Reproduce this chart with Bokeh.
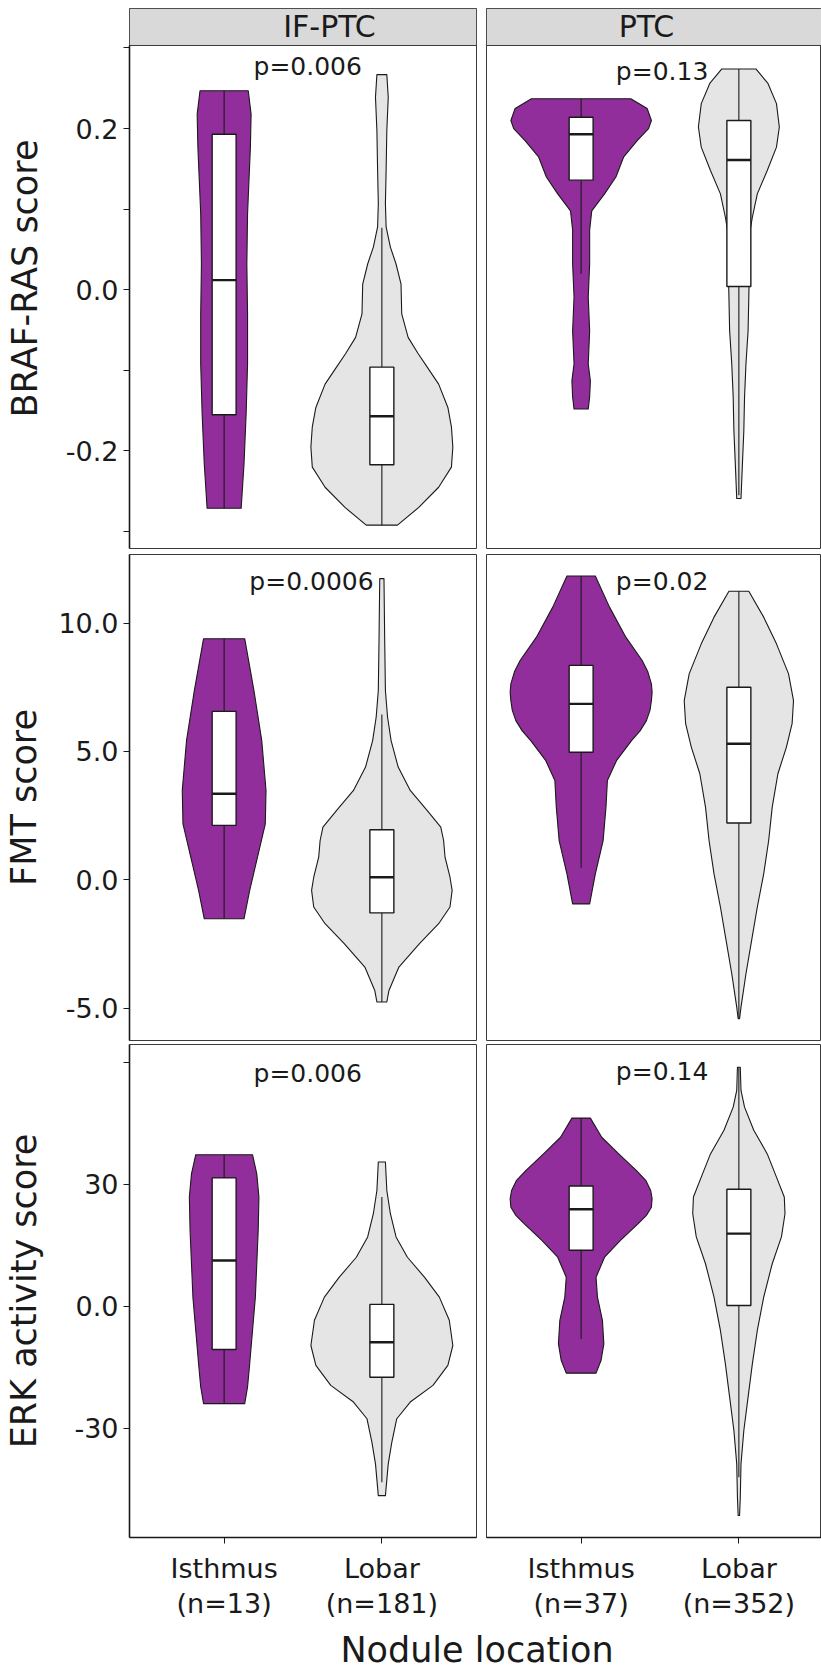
from bokeh.plotting import figure
from bokeh.layouts import column, row
from bokeh.models import Range1d, FixedTicker
from bokeh.core.properties import value
from bokeh.embed import file_html
from bokeh.resources import INLINE

# ---------------- data ----------------
groups = ["Isthmus", "Lobar"]
facets = ["IF-PTC", "PTC"]
scores = ["BRAF-RAS score", "FMT score", "ERK activity score"]
x_labels_if = ["Isthmus\n(n=13)", "Lobar\n(n=181)"]
x_labels_ptc = ["Isthmus\n(n=37)", "Lobar\n(n=352)"]
p_texts = [["p=0.006", "p=0.13"], ["p=0.0006", "p=0.02"], ["p=0.006", "p=0.14"]]
x_title = "Nodule location"

# violin outlines: score value, relative half-width (1 = widest violin)
braf_if_isth_y = [0.247, 0.218, 0.177, 0.136, 0.094, 0.032, -0.030, -0.092, -0.154, -0.216, -0.271]
braf_if_isth_w = [0.34, 0.38, 0.37, 0.35, 0.33, 0.32, 0.33, 0.33, 0.31, 0.28, 0.24]
braf_if_lob_y = [0.267, 0.239, 0.198, 0.148, 0.107, 0.078, 0.053, 0.032, 0.007, -0.030, -0.059, -0.079,
                 -0.100, -0.117, -0.146, -0.170, -0.195, -0.220, -0.245, -0.270, -0.292]
braf_if_lob_w = [0.07, 0.09, 0.07, 0.06, 0.05, 0.06, 0.12, 0.20, 0.27, 0.28, 0.37, 0.51,
                 0.67, 0.80, 0.93, 0.98, 1.00, 0.98, 0.80, 0.52, 0.22]
braf_ptc_isth_y = [0.237, 0.225, 0.210, 0.200, 0.185, 0.165, 0.140, 0.119, 0.098, 0.074, 0.032, -0.009,
                   -0.051, -0.092, -0.113, -0.133, -0.148]
braf_ptc_isth_w = [0.70, 0.93, 0.99, 0.95, 0.79, 0.60, 0.49, 0.33, 0.15, 0.12, 0.12, 0.10,
                   0.12, 0.10, 0.13, 0.12, 0.10]
braf_ptc_lob_y = [0.274, 0.256, 0.231, 0.202, 0.177, 0.148, 0.119, 0.090, 0.074, 0.032, -0.009, -0.051,
                  -0.092, -0.133, -0.175, -0.216, -0.259]
braf_ptc_lob_w = [0.24, 0.41, 0.53, 0.57, 0.53, 0.40, 0.26, 0.19, 0.16, 0.15, 0.14, 0.13,
                  0.10, 0.08, 0.07, 0.05, 0.03]

fmt_if_isth_y = [9.39, 7.37, 5.42, 3.48, 2.18, 0.88, -0.41, -1.52]
fmt_if_isth_w = [0.29, 0.42, 0.53, 0.59, 0.58, 0.47, 0.36, 0.28]
fmt_if_lob_y = [11.73, 9.32, 7.37, 6.34, 5.42, 4.39, 3.48, 2.69, 2.05, 1.53, 0.88, 0.10,
                -0.41, -1.06, -1.71, -2.49, -3.40, -4.31, -4.76]
fmt_if_lob_w = [0.03, 0.04, 0.05, 0.08, 0.13, 0.23, 0.40, 0.64, 0.83, 0.87, 0.89, 0.96,
                0.99, 0.96, 0.80, 0.53, 0.24, 0.10, 0.07]
fmt_ptc_isth_y = [11.83, 10.62, 9.45, 8.54, 8.10, 7.63, 7.30, 6.98, 6.60, 6.20, 5.80, 5.42, 4.65, 3.87,
                  2.83, 1.53, 0.23, -0.94]
fmt_ptc_isth_w = [0.20, 0.40, 0.63, 0.86, 0.94, 0.99, 1.00, 0.99, 0.97, 0.92, 0.83, 0.71, 0.50, 0.37,
                  0.35, 0.31, 0.20, 0.12]
fmt_ptc_lob_y = [11.24, 10.23, 9.19, 8.02, 6.98, 6.08, 5.17, 4.13, 2.83, 1.53, 0.23, -1.06,
                 -2.36, -3.66, -4.96, -5.41]
fmt_ptc_lob_w = [0.14, 0.35, 0.53, 0.70, 0.77, 0.75, 0.67, 0.55, 0.47, 0.42, 0.35, 0.26,
                 0.18, 0.10, 0.03, 0.01]

erk_if_isth_y = [37.3, 32.6, 26.9, 18.7, 10.5, 2.3, -5.9, -14.1, -19.8, -23.9]
erk_if_isth_w = [0.40, 0.46, 0.49, 0.48, 0.46, 0.44, 0.40, 0.36, 0.33, 0.29]
erk_if_lob_y = [35.5, 28.5, 22.8, 17.1, 12.1, 7.2, 2.3, -3.4, -9.6, -14.5, -19.4, -23.5,
                -27.6, -33.4, -38.7, -46.5]
erk_if_lob_w = [0.05, 0.07, 0.12, 0.20, 0.36, 0.60, 0.81, 0.95, 1.00, 0.93, 0.72, 0.40,
                0.21, 0.14, 0.09, 0.05]
erk_ptc_isth_y = [46.3, 41.6, 37.5, 33.4, 31.0, 28.5, 26.5, 24.4, 22.4, 20.3, 16.2, 12.1, 7.2, 2.3,
                  -3.4, -9.2, -13.3, -16.4]
erk_ptc_isth_w = [0.13, 0.29, 0.53, 0.78, 0.91, 0.98, 1.00, 0.99, 0.92, 0.80, 0.55, 0.33, 0.21, 0.23,
                  0.30, 0.32, 0.28, 0.21]
erk_ptc_lob_y = [58.8, 53.1, 49.0, 43.3, 37.5, 31.8, 26.9, 22.8, 17.1, 10.5, 2.3, -5.9,
                 -14.1, -22.3, -30.5, -38.7, -46.9, -51.4]
erk_ptc_lob_w = [0.02, 0.03, 0.08, 0.21, 0.40, 0.53, 0.64, 0.65, 0.60, 0.47, 0.35, 0.26,
                 0.19, 0.13, 0.07, 0.03, 0.02, 0.01]

# box stats: lower whisker, q1, median, q3, upper whisker
braf_if_isth_box = [-0.271, -0.155, 0.012, 0.193, 0.247]
braf_if_lob_box = [-0.292, -0.217, -0.157, -0.096, 0.077]
braf_ptc_isth_box = [0.020, 0.136, 0.193, 0.214, 0.237]
braf_ptc_lob_box = [-0.255, 0.004, 0.161, 0.210, 0.274]
fmt_if_isth_box = [-1.52, 2.12, 3.35, 6.56, 9.39]
fmt_if_lob_box = [-4.76, -1.29, 0.10, 1.95, 6.44]
fmt_ptc_isth_box = [0.47, 4.97, 6.85, 8.35, 11.83]
fmt_ptc_lob_box = [-5.41, 2.21, 5.30, 7.50, 11.24]
erk_if_isth_box = [-23.9, -10.6, 11.3, 31.6, 37.3]
erk_if_lob_box = [-43.2, -17.4, -8.8, 0.5, 26.9]
erk_ptc_isth_box = [-8.0, 13.8, 23.9, 29.6, 46.3]
erk_ptc_lob_box = [-42.0, 0.25, 17.9, 28.8, 58.8]

y_ticks = [[-0.3, -0.2, -0.1, 0.0, 0.1, 0.2, 0.3], [-5, 0, 5, 10], [-30, 0, 30, 60]]
y_tick_labels = [["", "-0.2", "", "0.0", "", "0.2", ""], ["-5.0", "0.0", "5.0", "10.0"], ["-30", "0.0", "30", ""]]

# ---------------- styling / layout ----------------
FONT_NAME = "DejaVu Sans"
FONT = value(FONT_NAME)
TXT = "#1a1a1a"
EDGE = "#3a3a3a"
FILLS = ["#912E9B", "#E5E5E5"]
HALF = 0.45
BOX_HALF = 0.076

violins = [
    [[(braf_if_isth_y, braf_if_isth_w, braf_if_isth_box), (braf_if_lob_y, braf_if_lob_w, braf_if_lob_box)],
     [(braf_ptc_isth_y, braf_ptc_isth_w, braf_ptc_isth_box), (braf_ptc_lob_y, braf_ptc_lob_w, braf_ptc_lob_box)]],
    [[(fmt_if_isth_y, fmt_if_isth_w, fmt_if_isth_box), (fmt_if_lob_y, fmt_if_lob_w, fmt_if_lob_box)],
     [(fmt_ptc_isth_y, fmt_ptc_isth_w, fmt_ptc_isth_box), (fmt_ptc_lob_y, fmt_ptc_lob_w, fmt_ptc_lob_box)]],
    [[(erk_if_isth_y, erk_if_isth_w, erk_if_isth_box), (erk_if_lob_y, erk_if_lob_w, erk_if_lob_box)],
     [(erk_ptc_isth_y, erk_ptc_isth_w, erk_ptc_isth_box), (erk_ptc_lob_y, erk_ptc_lob_w, erk_ptc_lob_box)]],
]

# panel value ranges (bottom, top) and the extra space above row 1 used by the facet strip
y_ranges = [(-0.321, 0.3031), (-6.26, 12.67), (-56.8, 64.4)]
STRIP_PX = 37
PX_PER_UNIT_R1 = 806.0
title_standoff = [18, 11, 27]
# p-value label positions (x in category units, y = vertical middle of the text)
p_pos = [[(1.53, 0.2770), (1.513, 0.2708)], [(1.554, 11.62), (1.513, 11.62)], [(1.53, 57.37), (1.513, 57.78)]]
strip_x = [1.668, 1.414]

LEFT_BORDER = 129
FRAME_L = 347
FRAME_R = 335
GAP = 5
LEFT_W = LEFT_BORDER + FRAME_L + GAP
RIGHT_W = GAP + FRAME_R
X_RANGE_L = (0.4, 2.6)
X_RANGE_R = (0.4, 0.4 + 2.2 * FRAME_R / FRAME_L)

row_heights = [551, 491, 580]
row_borders = [(8, 3), (3, 2), (2, 85)]
TITLE_H = 1674 - sum(row_heights)


def base_fig(w, h, xr, yr, bl, br, bt, bb):
    p = figure(width=w, height=h, x_range=Range1d(*xr), y_range=Range1d(*yr), title=None,
               output_backend="svg", toolbar_location=None,
               min_border_left=bl, min_border_right=br, min_border_top=bt, min_border_bottom=bb)
    p.xgrid.visible = False
    p.ygrid.visible = False
    p.background_fill_color = "white"
    p.border_fill_color = "white"
    p.outline_line_color = EDGE
    p.outline_line_width = 1
    return p


rows = []
for ri in range(3):
    figs = []
    bt, bb = row_borders[ri]
    y0, y1 = y_ranges[ri]
    top = y1 + (STRIP_PX / PX_PER_UNIT_R1 if ri == 0 else 0.0)
    for ci in range(2):
        if ci == 0:
            xr = X_RANGE_L
            p = base_fig(LEFT_W, row_heights[ri], xr, (y0, top), LEFT_BORDER, GAP, bt, bb)
        else:
            xr = X_RANGE_R
            p = base_fig(RIGHT_W, row_heights[ri], xr, (y0, top), GAP, 0, bt, bb)

        if ri == 0:
            # facet strip on top of the panel
            p.quad(left=[xr[0]], right=[xr[1]], bottom=[y1], top=[top],
                   fill_color="#D9D9D9", line_color=EDGE, line_width=1)
            p.text(x=[strip_x[ci]], y=[(y1 + top) / 2], text=[facets[ci]], text_font=FONT,
                   text_font_size="30px", text_color=TXT, text_align="center", text_baseline="middle")

        for gi in range(2):
            ys, ws, box = violins[ri][ci][gi]
            c = gi + 1
            xs = [c - w * HALF for w in ws] + [c + w * HALF for w in reversed(ws)]
            yy = list(ys) + list(reversed(ys))
            p.patch(xs, yy, fill_color=FILLS[gi], line_color="#1a1a1a", line_width=1.1, line_join="round")
            lo, q1, med, q3, hi = box
            p.segment(x0=[c, c], y0=[q3, q1], x1=[c, c], y1=[hi, lo], line_color="#1a1a1a", line_width=1.1)
            p.quad(left=[c - BOX_HALF], right=[c + BOX_HALF], bottom=[q1], top=[q3],
                   fill_color="white", line_color="#1a1a1a", line_width=1.4)
            p.segment(x0=[c - BOX_HALF], y0=[med], x1=[c + BOX_HALF], y1=[med],
                      line_color="#1a1a1a", line_width=2.4)

        px, py = p_pos[ri][ci]
        p.text(x=[px], y=[py], text=[p_texts[ri][ci]], text_font=FONT, text_font_size="25px",
               text_color=TXT, text_align="center", text_baseline="middle")

        # y axis
        if ci == 0:
            ax = p.yaxis[0]
            ax.bounds = (y0, y1)
            ax.ticker = FixedTicker(ticks=y_ticks[ri])
            ax.major_label_overrides = {t: lab for t, lab in zip(y_ticks[ri], y_tick_labels[ri])}
            ax.minor_tick_line_color = None
            ax.major_tick_in = 0
            ax.major_tick_out = 6
            ax.major_tick_line_color = "#1a1a1a"
            ax.axis_line_color = "#1a1a1a"
            ax.axis_line_width = 1.6
            ax.major_label_text_font = FONT_NAME
            ax.major_label_text_font_size = "27px"
            ax.major_label_text_color = TXT
            ax.major_label_standoff = 5
            ax.axis_label = scores[ri]
            ax.axis_label_text_font = FONT_NAME
            ax.axis_label_text_font_size = "35px"
            ax.axis_label_text_font_style = "normal"
            ax.axis_label_text_color = TXT
            ax.axis_label_standoff = title_standoff[ri]
        else:
            p.yaxis.visible = False

        # x axis
        if ri == 2:
            xa = p.xaxis[0]
            xa.ticker = FixedTicker(ticks=[1, 2])
            labs = x_labels_if if ci == 0 else x_labels_ptc
            xa.major_label_overrides = {1: labs[0], 2: labs[1]}
            xa.minor_tick_line_color = None
            xa.major_tick_in = 0
            xa.major_tick_out = 6
            xa.major_tick_line_color = "#1a1a1a"
            xa.axis_line_color = "#1a1a1a"
            xa.axis_line_width = 1.6
            xa.major_label_text_font = FONT_NAME
            xa.major_label_text_font_size = "27px"
            xa.major_label_text_color = TXT
            xa.major_label_text_line_height = 1.15
            xa.major_label_standoff = 9
        else:
            p.xaxis.visible = False
        figs.append(p)
    rows.append(row(*figs))

# x title (spans both facet columns)
t = figure(width=LEFT_W + RIGHT_W, height=TITLE_H, x_range=Range1d(0, LEFT_W + RIGHT_W),
           y_range=Range1d(0, TITLE_H), title=None, output_backend="svg", toolbar_location=None, min_border=0)
t.xaxis.visible = False
t.yaxis.visible = False
t.xgrid.visible = False
t.ygrid.visible = False
t.outline_line_color = None
t.text(x=[476.5], y=[25], text=[x_title], text_font=FONT, text_font_size="35px",
       text_color=TXT, text_align="center", text_baseline="middle")
rows.append(t)

layout = column(*rows)
open("out.html", "w").write(file_html(layout, INLINE))
